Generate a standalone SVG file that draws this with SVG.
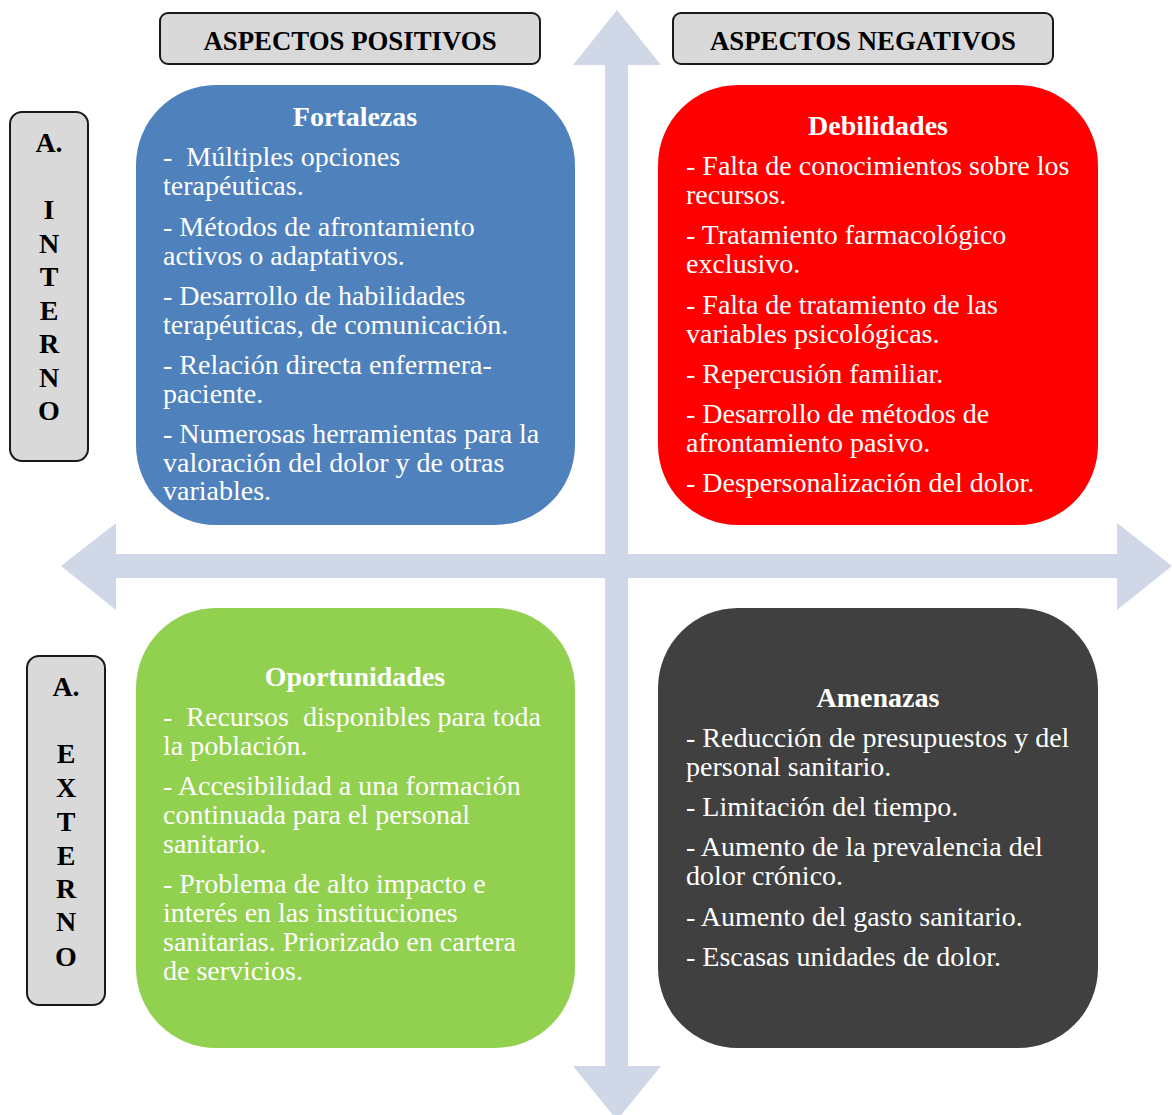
<svg xmlns="http://www.w3.org/2000/svg" width="1172" height="1115" viewBox="0 0 1172 1115">
<style>
text{font-family:"Liberation Serif","Times New Roman",serif;}
.hdr{fill:#D9D9D9;stroke:#1a1a1a;stroke-width:2;}
.ht{font-size:26.8px;font-weight:bold;fill:#000;text-anchor:middle;}
.side{font-size:28px;font-weight:bold;fill:#000;text-anchor:middle;}
.ttl{font-size:28px;font-weight:bold;fill:#fff;text-anchor:middle;}
.body{font-size:28px;fill:#fff;white-space:pre;}
.arrow{fill:#D0D8E8;}
</style>
<rect width="1172" height="1115" fill="#fff"/>
<g id="connectors">
<polygon class="arrow" points="617,10 661,65 628,65 628,1066 661,1066 617,1120 573,1066 605,1066 605,65 573,65"/>
<polygon class="arrow" points="61,566 116,523 116,554 1117,554 1117,523 1172,566 1117,610 1117,578 116,578 116,610"/>
</g>
<g id="header-positivos">
<rect class="hdr" x="160" y="13" width="380" height="51" rx="8"/>
<text class="ht" x="350" y="50">ASPECTOS POSITIVOS</text>
</g>
<g id="header-negativos">
<rect class="hdr" x="673" y="13" width="380" height="51" rx="8"/>
<text class="ht" x="863" y="50">ASPECTOS NEGATIVOS</text>
</g>
<g id="label-interno">
<rect class="hdr" x="10" y="112" width="78" height="349" rx="12"/>
<text class="side" x="49" y="152">A.</text>
<text class="side" x="49" y="219">I</text>
<text class="side" x="49" y="252.5">N</text>
<text class="side" x="49" y="286">T</text>
<text class="side" x="49" y="319.5">E</text>
<text class="side" x="49" y="353">R</text>
<text class="side" x="49" y="386.5">N</text>
<text class="side" x="49" y="420">O</text>
</g>
<g id="label-externo">
<rect class="hdr" x="27" y="656" width="78" height="349" rx="12"/>
<text class="side" x="66" y="696">A.</text>
<text class="side" x="66" y="763">E</text>
<text class="side" x="66" y="797">X</text>
<text class="side" x="66" y="831">T</text>
<text class="side" x="66" y="865">E</text>
<text class="side" x="66" y="898">R</text>
<text class="side" x="66" y="931">N</text>
<text class="side" x="66" y="966">O</text>
</g>
<g id="fortalezas">
<rect x="136" y="85" width="439" height="440" rx="80" fill="#4F81BD"/>
<text class="ttl" x="355" y="126">Fortalezas</text>
<text class="body" x="163" y="166" xml:space="preserve">-  Múltiples opciones</text>
<text class="body" x="163" y="195">terapéuticas.</text>
<text class="body" x="163" y="236">- Métodos de afrontamiento</text>
<text class="body" x="163" y="265">activos o adaptativos.</text>
<text class="body" x="163" y="305">- Desarrollo de habilidades</text>
<text class="body" x="163" y="334">terapéuticas, de comunicación.</text>
<text class="body" x="163" y="374">- Relación directa enfermera-</text>
<text class="body" x="163" y="403">paciente.</text>
<text class="body" x="163" y="443">- Numerosas herramientas para la</text>
<text class="body" x="163" y="472">valoración del dolor y de otras</text>
<text class="body" x="163" y="500">variables.</text>
</g>
<g id="debilidades">
<rect x="658" y="85" width="440" height="440" rx="80" fill="#FF0000"/>
<text class="ttl" x="878" y="135">Debilidades</text>
<text class="body" x="686" y="175">- Falta de conocimientos sobre los</text>
<text class="body" x="686" y="204">recursos.</text>
<text class="body" x="686" y="244">- Tratamiento farmacológico</text>
<text class="body" x="686" y="273">exclusivo.</text>
<text class="body" x="686" y="314">- Falta de tratamiento de las</text>
<text class="body" x="686" y="343">variables psicológicas.</text>
<text class="body" x="686" y="383">- Repercusión familiar.</text>
<text class="body" x="686" y="423">- Desarrollo de métodos de</text>
<text class="body" x="686" y="452">afrontamiento pasivo.</text>
<text class="body" x="686" y="492">- Despersonalización del dolor.</text>
</g>
<g id="oportunidades">
<rect x="136" y="608" width="439" height="440" rx="80" fill="#92D050"/>
<text class="ttl" x="355" y="686">Oportunidades</text>
<text class="body" x="163" y="726" xml:space="preserve">-  Recursos  disponibles para toda</text>
<text class="body" x="163" y="755">la población.</text>
<text class="body" x="163" y="795">- Accesibilidad a una formación</text>
<text class="body" x="163" y="824">continuada para el personal</text>
<text class="body" x="163" y="853">sanitario.</text>
<text class="body" x="163" y="893">- Problema de alto impacto e</text>
<text class="body" x="163" y="922">interés en las instituciones</text>
<text class="body" x="163" y="951">sanitarias. Priorizado en cartera</text>
<text class="body" x="163" y="980">de servicios.</text>
</g>
<g id="amenazas">
<rect x="658" y="608" width="440" height="440" rx="80" fill="#404040"/>
<text class="ttl" x="878" y="707">Amenazas</text>
<text class="body" x="686" y="747">- Reducción de presupuestos y del</text>
<text class="body" x="686" y="776">personal sanitario.</text>
<text class="body" x="686" y="816">- Limitación del tiempo.</text>
<text class="body" x="686" y="856">- Aumento de la prevalencia del</text>
<text class="body" x="686" y="885">dolor crónico.</text>
<text class="body" x="686" y="926">- Aumento del gasto sanitario.</text>
<text class="body" x="686" y="966">- Escasas unidades de dolor.</text>
</g>
</svg>
